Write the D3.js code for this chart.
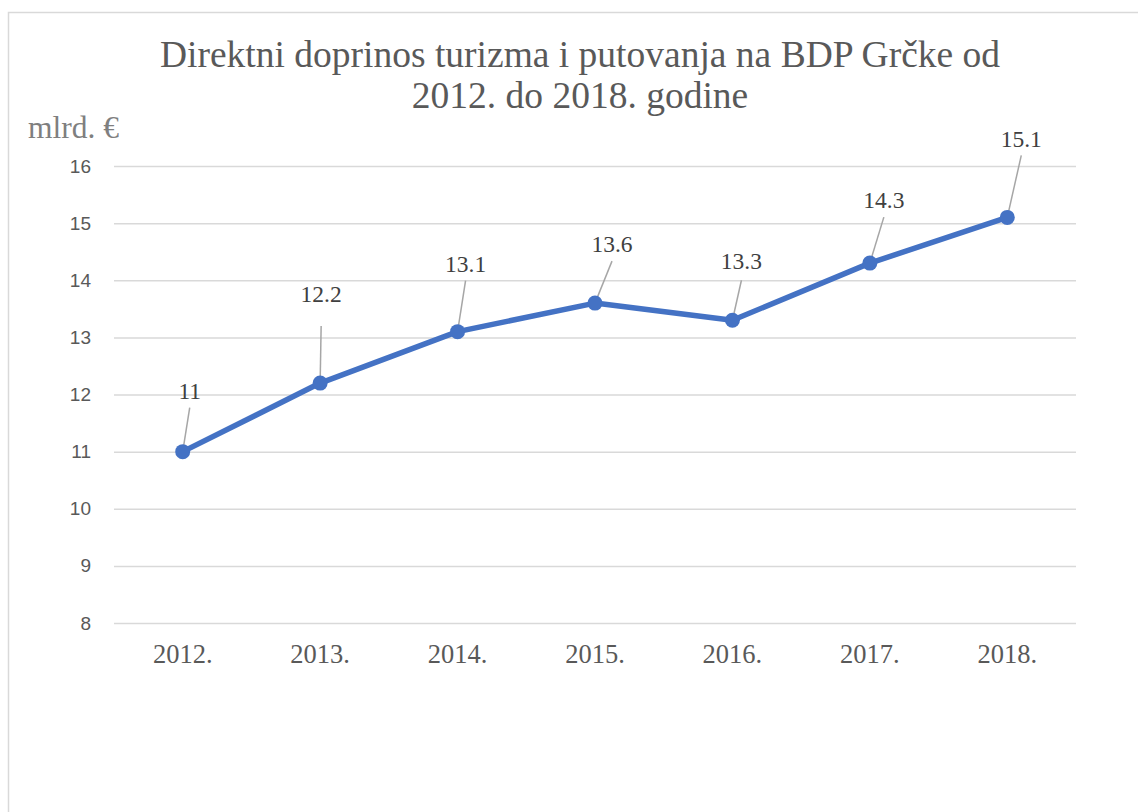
<!DOCTYPE html>
<html>
<head>
<meta charset="utf-8">
<script src="https://cdn.jsdelivr.net/npm/d3@7"></script>
<style>
  body { margin: 0; background: #fff; }
  svg { display: block; }
</style>
</head>
<body>
<div class="container"></div>
<script>
// chart data
const years = ['2012.', '2013.', '2014.', '2015.', '2016.', '2017.', '2018.'];
const values = [11, 12.2, 13.1, 13.6, 13.3, 14.3, 15.1];
const yTicks = [8, 9, 10, 11, 12, 13, 14, 15, 16];
const titleLines = ['Direktni doprinos turizma i putovanja na BDP Grčke od', '2012. do 2018. godine'];
const unitLabel = 'mlrd. €';

// where each data label sits relative to its point (px): [dx, dy to baseline, leader gap]
const labelLayout = [
    [7, -53, 9],
    [1, -81, 24],
    [8, -60, 9],
    [17, -51, 9],
    [9, -51, 11],
    [14, -55, 9],
    [14, -70, 8]
];

const width = 1138;
const height = 812;
const plot = { left: 114, right: 1076, top: 166, bottom: 623 };
const serif = '"Liberation Serif", "Times New Roman", serif';

const svg = d3.select('.container')
    .append('svg')
    .attr('width', width)
    .attr('height', height);

// chart border
svg.append('rect')
    .attr('x', 8.5)
    .attr('y', 12.5)
    .attr('width', 1200)
    .attr('height', 900)
    .attr('fill', 'none')
    .attr('stroke', '#d9d9d9')
    .attr('stroke-width', 1.5);

// title
const title = svg.append('text')
    .attr('text-anchor', 'middle')
    .style('font-family', serif)
    .style('font-size', '37.5px')
    .attr('fill', '#595959');

title.selectAll('tspan')
    .data(titleLines)
    .enter()
    .append('tspan')
    .attr('x', 580)
    .attr('y', (d, i) => 67 + i * 41)
    .text(d => d);

svg.append('text')
    .attr('x', 28)
    .attr('y', 138)
    .style('font-family', serif)
    .style('font-size', '31.5px')
    .attr('fill', '#7f7f7f')
    .text(unitLabel);

const x = d3.scaleBand()
    .domain(years)
    .range([plot.left, plot.right])
    .padding(0);

const y = d3.scaleLinear()
    .domain([8, 16])
    .range([plot.bottom, plot.top]);

// y axis + gridlines
const yAxis = d3.axisLeft(y)
    .tickValues(yTicks)
    .tickSize(-(plot.right - plot.left))
    .tickPadding(23)
    .tickFormat(d3.format('d'));

const gy = svg.append('g')
    .attr('transform', `translate(${plot.left},0)`)
    .call(yAxis);

gy.select('.domain').remove();
gy.selectAll('.tick line')
    .attr('stroke', '#d9d9d9')
    .attr('stroke-width', 1.5);
gy.selectAll('.tick text')
    .attr('fill', '#595959')
    .style('font-family', '"Liberation Sans", Arial, sans-serif')
    .style('font-size', '19px');

// x axis
const xAxis = d3.axisBottom(x)
    .tickSize(0)
    .tickPadding(21);

const gx = svg.append('g')
    .attr('transform', `translate(0,${plot.bottom})`)
    .call(xAxis);

gx.select('.domain').remove();
gx.selectAll('.tick text')
    .attr('fill', '#595959')
    .style('font-family', serif)
    .style('font-size', '26.5px');

const px = (d, i) => x(years[i]) + x.bandwidth() / 2;
const py = d => y(d);

// leader lines
svg.append('g')
    .selectAll('line')
    .data(values)
    .enter()
    .append('line')
    .attr('x1', (d, i) => px(d, i) + labelLayout[i][0])
    .attr('y1', (d, i) => py(d) + labelLayout[i][1] + labelLayout[i][2])
    .attr('x2', (d, i) => px(d, i))
    .attr('y2', d => py(d))
    .attr('stroke', '#a6a6a6')
    .attr('stroke-width', 1.5);

// series line
const line = d3.line()
    .x((d, i) => px(d, i))
    .y(d => py(d));

svg.append('path')
    .datum(values)
    .attr('d', line)
    .attr('fill', 'none')
    .attr('stroke', '#4472c4')
    .attr('stroke-width', 5.5)
    .attr('stroke-linejoin', 'round');

svg.append('g')
    .selectAll('circle')
    .data(values)
    .enter()
    .append('circle')
    .attr('cx', (d, i) => px(d, i))
    .attr('cy', d => py(d))
    .attr('r', 7.5)
    .attr('fill', '#4472c4');

// data labels
svg.append('g')
    .selectAll('text')
    .data(values)
    .enter()
    .append('text')
    .attr('x', (d, i) => px(d, i) + labelLayout[i][0])
    .attr('y', (d, i) => py(d) + labelLayout[i][1])
    .attr('text-anchor', 'middle')
    .style('font-family', serif)
    .style('font-size', '23.5px')
    .attr('fill', '#404040')
    .text(d => d);
</script>
</body>
</html>
